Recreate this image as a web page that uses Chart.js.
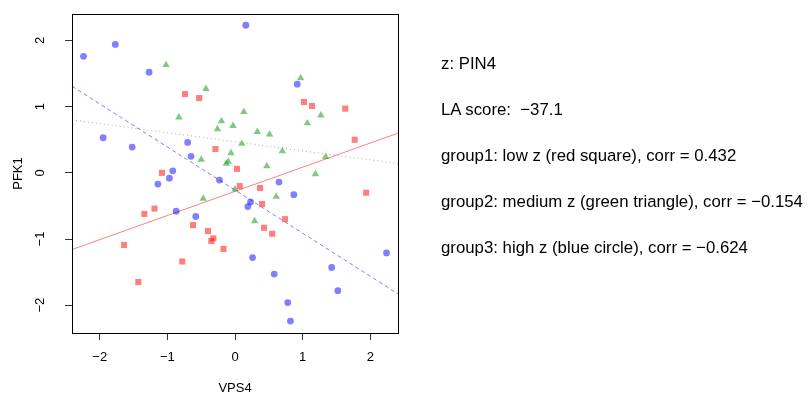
<!DOCTYPE html>
<html>
<head>
<meta charset="utf-8">
<script src="https://cdn.jsdelivr.net/npm/chart.js@4.4.0/dist/chart.umd.min.js"></script>
<style>
  html, body { margin: 0; padding: 0; background: #fff; }
  #wrap { position: relative; width: 811px; height: 393px; }
  .note {
    position: absolute; left: 441px; white-space: pre;
    font-family: "Liberation Sans", Arial, sans-serif; font-size: 16.8px; line-height: 16.8px; color: #000;
  }
</style>
</head>
<body>
<div id="wrap">
  <canvas id="chart" width="811" height="393"></canvas>
  <div class="note" style="top:56px">z: PIN4</div>
  <div class="note" style="top:102px">LA score:  −37.1</div>
  <div class="note" style="top:148px">group1: low z (red square), corr = 0.432</div>
  <div class="note" style="top:194px">group2: medium z (green triangle), corr = −0.154</div>
  <div class="note" style="top:240px">group3: high z (blue circle), corr = −0.624</div>
</div>
<script>
// group1: low z (red squares)
const redX = [-0.74, -0.53, 1.02, 1.14, 1.63, -0.29, 1.77, -1.08, 0.03, 0.07, 0.37, 0.40, 1.94,
  -1.19, -1.34, 0.74, -0.62, -0.40, -0.32, -0.35, -0.17, 0.43, 0.55, -1.64, -0.78, -1.43];
const redY = [1.19, 1.13, 1.07, 1.01, 0.97, 0.36, 0.50, 0.00, 0.06, -0.20, -0.23, -0.47, -0.30,
  -0.54, -0.62, -0.70, -0.79, -0.88, -0.99, -1.03, -1.15, -0.83, -0.92, -1.09, -1.34, -1.65];

// group2: medium z (green triangles)
const greenX = [-1.02, -0.43, 0.97, 0.13, 1.27, -0.83, -0.20, -0.03, -0.26, 1.07, 0.33, 0.51, 0.10,
  -0.06, 0.70, -0.50, -0.10, -0.13, 1.34, 0.47, 1.19, 0.00, -0.47, 0.61, 0.29];
const greenY = [1.63, 1.27, 1.43, 0.92, 0.87, 0.84, 0.78, 0.71, 0.66, 0.75, 0.62, 0.58, 0.44,
  0.30, 0.33, 0.20, 0.17, 0.14, 0.24, 0.10, -0.02, -0.25, -0.39, -0.36, -0.73];

// group3: high z (blue circles)
const blueX = [-2.24, -1.77, -1.27, 0.16, 0.92, -1.95, -1.52, -0.70, -0.65, -0.92, -0.97, -1.14, -0.23,
  0.65, 0.87, 0.23, 0.19, -0.87, -0.58, 0.26, 0.58, 1.43, 1.52, 0.78, 0.82, 2.24];
const blueY = [1.76, 1.94, 1.52, 2.23, 1.34, 0.53, 0.39, 0.46, 0.25, 0.03, -0.08, -0.17, -0.11,
  -0.14, -0.33, -0.44, -0.51, -0.58, -0.66, -1.28, -1.53, -1.43, -1.78, -1.96, -2.24, -1.21];

// fitted lines: [intercept, slope]
const redFit = [-0.28, 0.365];
const greenFit = [0.47, -0.137];
const blueFit = [-0.26, -0.651];

const xTicks = [-2, -1, 0, 1, 2];
const yTicks = [-2, -1, 0, 1, 2];
const xRange = [-2.41, 2.41];
const yRange = [-2.42, 2.40];

const FONT = '"Liberation Sans", Arial, sans-serif';
const RED = 'rgba(255,0,0,0.5)';
const GREEN = 'rgba(0,150,0,0.5)';
const BLUE = 'rgba(0,0,255,0.5)';

function pts(xs, ys) {
  return xs.map((x, i) => ({ x: x, y: ys[i] }));
}

function fitLine(fit) {
  return xRange.map(x => ({ x: x, y: fit[0] + fit[1] * x }));
}

function minus(v) {
  return String(v).replace('-', '\u2212');
}

// R-style box, tick labels and axis titles
const rAxes = {
  id: 'rAxes',
  afterDraw(chart) {
    const ctx = chart.ctx;
    const a = chart.chartArea;
    const xs = chart.scales.x;
    const ys = chart.scales.y;
    ctx.save();
    ctx.strokeStyle = '#000';
    ctx.lineWidth = 1;
    ctx.strokeRect(Math.round(a.left) + 0.5, Math.round(a.top) + 0.5,
      Math.round(a.right - a.left), Math.round(a.bottom - a.top));

    ctx.fillStyle = '#000';
    ctx.font = '13px ' + FONT;
    ctx.textAlign = 'center';
    ctx.textBaseline = 'middle';
    xTicks.forEach(v => {
      ctx.fillText(minus(v), xs.getPixelForValue(v), 357);
    });
    yTicks.forEach(v => {
      ctx.save();
      ctx.translate(40, ys.getPixelForValue(v));
      ctx.rotate(-Math.PI / 2);
      ctx.fillText(minus(v), 0, 0);
      ctx.restore();
    });

    ctx.fillText('VPS4', (a.left + a.right) / 2, 388);
    ctx.save();
    ctx.translate(18, (a.top + a.bottom) / 2);
    ctx.rotate(-Math.PI / 2);
    ctx.fillText('PFK1', 0, 0);
    ctx.restore();
    ctx.restore();
  }
};

function axisOpts(range, ticks, isX) {
  return {
    type: 'linear',
    min: range[0],
    max: range[1],
    afterBuildTicks: axis => { axis.ticks = ticks.map(v => ({ value: v })); },
    afterFit: axis => {
      if (isX) axis.height = 60; else axis.width = 72;
    },
    grid: {
      drawOnChartArea: false,
      drawTicks: true,
      tickLength: 7,
      color: '#333',
      lineWidth: 1
    },
    border: { display: true, color: '#000', width: 1 },
    ticks: { display: false }
  };
}

new Chart(document.getElementById('chart'), {
  type: 'scatter',
  data: {
    datasets: [
      {
        label: 'group1',
        data: pts(redX, redY),
        pointStyle: 'rect',
        pointRadius: 4.3,
        pointBackgroundColor: RED,
        pointBorderWidth: 0
      },
      {
        label: 'group2',
        data: pts(greenX, greenY),
        pointStyle: 'triangle',
        pointRadius: 4.3,
        pointBackgroundColor: GREEN,
        pointBorderWidth: 0
      },
      {
        label: 'group3',
        data: pts(blueX, blueY),
        pointStyle: 'circle',
        pointRadius: 3.4,
        pointBackgroundColor: BLUE,
        pointBorderWidth: 0
      },
      {
        type: 'line',
        data: fitLine(redFit),
        borderColor: RED,
        borderWidth: 1,
        pointRadius: 0,
        fill: false
      },
      {
        type: 'line',
        data: fitLine(greenFit),
        borderColor: GREEN,
        borderWidth: 1,
        borderDash: [1, 3],
        pointRadius: 0,
        fill: false
      },
      {
        type: 'line',
        data: fitLine(blueFit),
        borderColor: BLUE,
        borderWidth: 1,
        borderDash: [4, 3],
        pointRadius: 0,
        fill: false
      }
    ]
  },
  options: {
    responsive: false,
    animation: false,
    layout: { padding: { top: 14, right: 413, left: 0, bottom: 0 } },
    plugins: {
      legend: { display: false },
      tooltip: { enabled: false }
    },
    scales: {
      x: axisOpts(xRange, xTicks, true),
      y: axisOpts(yRange, yTicks, false)
    }
  },
  plugins: [rAxes]
});
</script>
</body>
</html>
